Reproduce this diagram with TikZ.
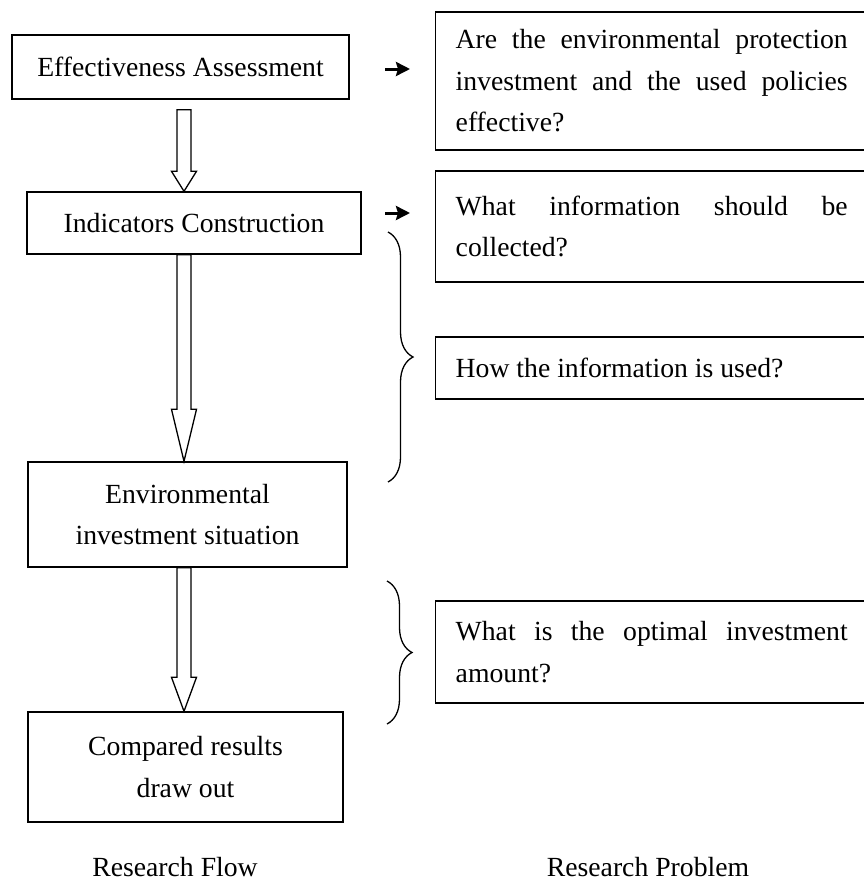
\documentclass[tikz,border=0pt]{standalone}
\usepackage{fontspec}
\setmainfont{Liberation Serif}
\usetikzlibrary{arrows.meta,calc,decorations.pathreplacing}
\hyphenpenalty=10000
\begin{document}
\begin{tikzpicture}[x=1pt,y=-1pt,
  every node/.style={font=\fontsize{27.7pt}{41.5pt}\selectfont},
  flowbox/.style={draw,line width=1.4pt,align=center,inner sep=0pt},
  probbox/.style={draw,line width=1.4pt,anchor=west,text width=392pt,align=justify,inner xsep=20pt,inner ysep=0pt},
  flowarrow/.style={draw,line width=1.3pt,fill=white,line join=miter},
  pointer/.style={line width=3pt,-{Stealth[length=14pt,width=14pt,inset=2pt]}},
  bracket/.style={line width=1.3pt,decorate,decoration={brace,amplitude=25pt}},
  caption/.style={anchor=base,inner sep=0pt}]
\useasboundingbox (0,0) rectangle (864,881);
\clip (0,0) rectangle (864,881);

% research flow
\node[flowbox,minimum width=337pt,minimum height=64pt] (eff) at (180.5,67) {Effectiveness Assessment};
\node[flowbox,minimum width=334pt,minimum height=62pt] (ind) at (194,223) {Indicators Construction};
\node[flowbox,minimum width=319pt,minimum height=105pt] (env) at (187.5,514.5) {Environmental\\investment situation};
\node[flowbox,minimum width=315pt,minimum height=110pt] (comp) at (185.5,767) {Compared results\\draw out};

% research problem
\node[probbox,minimum height=138pt] (are) at (435,81) {Are the environmental protection investment and the used policies effective?};
\node[probbox,minimum height=111pt] (what) at (435,226.5) {What information should be collected?};
\node[probbox,minimum height=62pt] (how) at (435,368) {How the information is used?};
\node[probbox,minimum height=102pt] (opt) at (435,652) {What is the optimal investment amount?};

\node[caption] (flowlabel) at (175,876) {Research Flow};
\node[caption] (problabel) at (648,876) {Research Problem};

% block arrows
\coordinate (axis) at (184,0);
\foreach \a/\b/\g/\h in {eff/ind/10pt/20pt, ind/env/0pt/52pt, env/comp/0pt/34pt}
  \draw[flowarrow] let \p1=([yshift=-\g]axis |- \a.south), \p2=(axis |- \b.north) in
    (\x1-7pt,\y1) -- (\x1+7pt,\y1) -- (\x1+7pt,\y2+\h) -- (\x1+12.5pt,\y2+\h) -- (\x2,\y2)
    -- (\x1-12.5pt,\y2+\h) -- (\x1-7pt,\y2+\h) -- cycle;

% pointers
\coordinate (p1s) at (385,69); \coordinate (p1e) at (410,69);
\coordinate (p2s) at (385,213); \coordinate (p2e) at (410,213);
\draw[pointer] (p1s) -- (p1e);
\draw[pointer] (p2s) -- (p2e);

% braces
\coordinate (b1top) at (388,232); \coordinate (b1bot) at (388,482);
\coordinate (b2top) at (387,581); \coordinate (b2bot) at (387,724);
\draw[bracket] (b1top) -- (b1bot);
\draw[bracket] (b2top) -- (b2bot);
\end{tikzpicture}
\end{document}
